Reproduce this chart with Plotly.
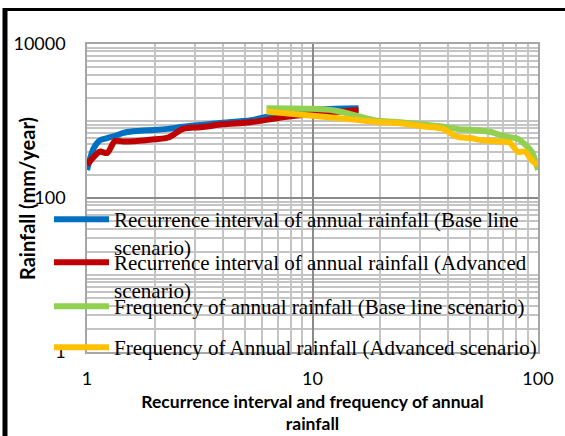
import plotly.graph_objects as go

# Recurrence interval (years) and frequency (%) positions
T = [1.0, 1.07, 1.14, 1.23, 1.33, 1.45, 1.6, 1.78, 2.0, 2.29, 2.67, 3.2, 4.0, 5.33, 8.0, 16.0]
P = [6.25, 12.5, 18.75, 25, 31.25, 37.5, 43.75, 50, 56.25, 62.5, 68.75, 75, 81.25, 87.5, 93.75, 100]

# Rainfall (mm/year)
rec_base = [231, 440, 560, 600, 640, 700, 735, 755, 765, 790, 840, 890, 950, 1020, 1330, 1460]
rec_adv = [270, 340, 400, 385, 550, 540, 545, 560, 580, 610, 790, 830, 905, 965, 1150, 1390]
freq_base = [1460, 1370, 1025, 958, 900, 850, 790, 768, 745, 715, 650, 615, 590, 500, 400, 231]
freq_adv = [1330, 1103, 980, 930, 850, 800, 625, 600, 565, 550, 538, 525, 399, 400, 310, 267]

names = [
    "Recurrence interval of annual rainfall (Base line<br>scenario)",
    "Recurrence interval of annual rainfall (Advanced<br>scenario)",
    "Frequency of annual rainfall (Base line scenario)",
    "Frequency of Annual rainfall (Advanced scenario)",
]
colors = ["#0070C0", "#C00000", "#92D050", "#FFC000"]
xs = [T, T, P, P]
ys = [rec_base, rec_adv, freq_base, freq_adv]
legend_ids = ["legend", "legend2", "legend3", "legend4"]

W, H = 565, 436
L, R, TOP, B = 87, 27, 44, 84
plot_w = W - L - R
plot_h = H - TOP - B

fig = go.Figure()
for x, y, n, c, lg in zip(xs, ys, names, colors, legend_ids):
    fig.add_trace(go.Scatter(
        x=x, y=y, mode="lines", name=n,
        line=dict(color=c, width=6, shape="spline", smoothing=0.8),
        legend=lg,
    ))

# legend symbol centre pixel rows
leg_rows = [215, 258, 302, 343]
leg_font = dict(family="Liberation Serif", size=21, color="black")
def px2py(py):
    return (H - B - py) / plot_h
def px2px(px):
    return (px - L) / plot_w

leg_common = dict(bgcolor="rgba(0,0,0,0)", borderwidth=0, font=leg_font,
                  valign="top", itemwidth=55, xanchor="left", yanchor="top",
                  x=px2px(49), tracegroupgap=0)
layout_legends = {}
for lg, row in zip(legend_ids, leg_rows):
    layout_legends[lg] = dict(leg_common, y=px2py(row - 16))

tick_font = dict(family="Lato", size=18, color="black")
title_font = dict(family="Lato", size=17.5, color="black", weight="bold")
ytitle_font = dict(family="Lato", size=20, color="black", weight="bold")

fig.update_layout(
    width=W, height=H,
    margin=dict(l=L, r=R, t=TOP, b=B, autoexpand=False),
    paper_bgcolor="white", plot_bgcolor="white",
    showlegend=True,
    **layout_legends,
    xaxis=dict(
        type="log", range=[0, 2], tickvals=[1, 10, 100], ticktext=["1", "10", "100"],
        showgrid=True, gridcolor="#8a8a8a", gridwidth=1.5,
        showline=True, linecolor="#a6a6a6", linewidth=1.5, mirror=True,
        ticks="", tickfont=tick_font, ticklabelstandoff=10,
        minor=dict(dtick="D1", showgrid=True, gridcolor="#c4c4c4", gridwidth=1.5, ticks=""),
        title=dict(text="Recurrence interval and frequency of annual<br>rainfall",
                   font=title_font, standoff=7),
        zeroline=False, automargin=False,
    ),
    yaxis=dict(
        type="log", range=[0, 4], tickvals=[1, 100, 10000], ticktext=["1", "100", "10000"],
        showgrid=True, gridcolor="#8a8a8a", gridwidth=1.5,
        showline=True, linecolor="#a6a6a6", linewidth=1.5, mirror=True,
        ticks="", tickfont=tick_font, ticklabelstandoff=16,
        minor=dict(dtick="D1", showgrid=True, gridcolor="#c4c4c4", gridwidth=1.5, ticks=""),
        zeroline=False, automargin=False,
    ),
    annotations=[
        dict(text="Rainfall (mm/year)", textangle=-90, showarrow=False,
             xref="paper", yref="paper", x=px2px(27), y=px2py(199),
             xanchor="center", yanchor="middle", font=ytitle_font),
    ],
    shapes=[
        dict(type="line", xref="paper", yref="paper",
             x0=px2px(5), x1=px2px(5), y0=px2py(8), y1=px2py(H + 2),
             line=dict(color="black", width=5)),
        dict(type="line", xref="paper", yref="paper",
             x0=px2px(3), x1=px2px(W + 2), y0=px2py(9.5), y1=px2py(9.5),
             line=dict(color="black", width=3)),
    ],
)

fig.write_html("out.html")
